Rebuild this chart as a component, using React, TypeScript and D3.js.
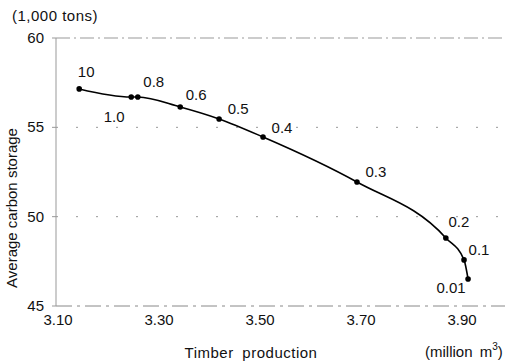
import React from 'react';
import * as d3 from 'd3';

// Timber production (million m3) vs. average carbon storage (1,000 tons)
const weights = ['10', '1.0', '0.8', '0.6', '0.5', '0.4', '0.3', '0.2', '0.1', '0.01'];
const timber = [3.142, 3.245, 3.258, 3.342, 3.419, 3.506, 3.692, 3.868, 3.904, 3.912];
const carbon = [57.15, 56.7, 56.7, 56.14, 55.47, 54.46, 51.94, 48.81, 47.58, 46.51];
// label offsets relative to each point [dx, dy of baseline]
const labelOffsets: [number, number][] = [
  [7, -12], [-17, 25], [16, -10], [16, -7], [19, -5],
  [19, -4], [19, -5], [13, -11], [15, -5], [-17, 14],
];
const xTicks = [3.1, 3.3, 3.5, 3.7, 3.9];
const yTicks = [45, 50, 55, 60];

const W = 507;
const H = 364;
const FONT = '"Liberation Sans", Arial, sans-serif';

export default function App() {
  const x = d3.scaleLinear().domain([3.1, 3.9]).range([58, 462]);
  const y = d3.scaleLinear().domain([45, 60]).range([306, 38]);
  const left = 56;
  const right = 505;

  const pts = timber.map((t, i) => ({ t, c: carbon[i], w: weights[i] }));
  const line = d3.line<typeof pts[0]>()
    .x(d => x(d.t))
    .y(d => y(d.c))
    .curve(d3.curveMonotoneX);

  return (
    <svg width={W} height={H} style={{ position: 'absolute', left: 0, top: 0, background: '#fff' }}
      fontFamily={FONT}>
      {/* frame and grid */}
      <line x1={left} x2={right} y1={y(60)} y2={y(60)} stroke="#999" strokeDasharray="14,4,2,4" />
      <line x1={left} x2={right} y1={y(45)} y2={y(45)} stroke="#888" strokeDasharray="16,5,3,5" />
      {[50, 55].map(v => (
        <line key={v} x1={left} x2={right} y1={y(v)} y2={y(v)} stroke="#999" strokeDasharray="2,18" />
      ))}
      <line x1={left} x2={left} y1={y(60)} y2={y(45)} stroke="#999" />

      {/* y ticks */}
      {yTicks.map(v => (
        <g key={v}>
          <line x1={left - 4} x2={left} y1={y(v)} y2={y(v)} stroke="#999" />
          <text x={44} y={y(v) + 5} textAnchor="end" fontSize={15} fill="#111">{v}</text>
        </g>
      ))}
      {/* x ticks */}
      {xTicks.map(v => (
        <text key={v} x={x(v)} y={325} textAnchor="middle" fontSize={15} fill="#111">{v.toFixed(2)}</text>
      ))}

      {/* curve */}
      <path d={line(pts) || ''} fill="none" stroke="#000" strokeWidth={1.6} />
      {pts.map((p, i) => (
        <g key={i}>
          <circle cx={x(p.t)} cy={y(p.c)} r={2.8} fill="#000" />
          <text x={x(p.t) + labelOffsets[i][0]} y={y(p.c) + labelOffsets[i][1]}
            textAnchor="middle" fontSize={15} fill="#111">{p.w}</text>
        </g>
      ))}

      {/* axis titles */}
      <text x={12} y={21} fontSize={15} letterSpacing={0.5} fill="#111">(1,000 tons)</text>
      <text transform={`translate(17,208) rotate(-90)`} textAnchor="middle" fontSize={15} fill="#111">
        Average carbon storage
      </text>
      <text x={251} y={358} textAnchor="middle" fontSize={15} wordSpacing={4} letterSpacing={0.5} fill="#111">
        Timber production
      </text>
      <text x={425} y={357} fontSize={15} fill="#111" wordSpacing={3}>
        (million m<tspan dy={-7} fontSize={10}>3</tspan><tspan dy={7}>)</tspan>
      </text>
    </svg>
  );
}
